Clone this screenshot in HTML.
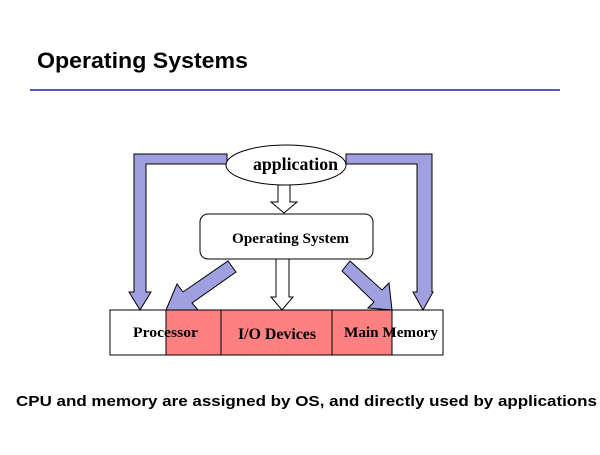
<!DOCTYPE html>
<html><head><meta charset="utf-8"><style>html,body{margin:0;padding:0;background:#fff}</style></head>
<body>
<svg width="600" height="450" viewBox="0 0 600 450" xmlns="http://www.w3.org/2000/svg">
<rect width="600" height="450" fill="#fff"/>
<text x="37" y="68" font-family="Liberation Sans, sans-serif" font-weight="bold" font-size="22" textLength="211" lengthAdjust="spacingAndGlyphs">Operating  Systems</text>
<line x1="30" y1="90" x2="560" y2="90" stroke="#5555cc" stroke-width="2"/>
<rect x="110" y="310" width="56" height="45" fill="#fff" stroke="#000"/>
<rect x="166" y="310" width="55" height="45" fill="#ff8080" stroke="#000"/>
<rect x="221" y="310" width="111" height="45" fill="#ff8080" stroke="#000"/>
<rect x="332" y="310" width="60" height="45" fill="#ff8080" stroke="#000"/>
<rect x="392" y="310" width="51" height="45" fill="#fff" stroke="#000"/>
<g font-family="Liberation Serif, serif" font-weight="bold">
<text x="133" y="337" font-size="15" textLength="65" lengthAdjust="spacingAndGlyphs">Processor</text>
<text x="238" y="339" font-size="15.5" textLength="78" lengthAdjust="spacingAndGlyphs">I/O Devices</text>
<text x="344" y="337" font-size="15" textLength="94" lengthAdjust="spacingAndGlyphs">Main Memory</text>
</g>
<polygon points="227,154 134,154 134,292 129,292 140,310 151,292 146,292 146,164 227,164" fill="#a0a0e0" stroke="#000"/>
<polygon points="346,154 432,154 432,292 433,292 423,310 413,292 417,292 417,164 346,164" fill="#a0a0e0" stroke="#000"/>
<polygon points="228,261 236,272 192,303 198,310 166,310 177,284 183,292" fill="#a0a0e0" stroke="#000"/>
<polygon points="350,261 342,271 374,302 368,308 392,310 389,283 382,290" fill="#a0a0e0" stroke="#000"/>
<polygon points="278,185 290,185 290,202 297,202 284,213 271,202 278,202" fill="#fff" stroke="#000"/>
<polygon points="276,259 289,259 289,297 293,297 282,310 271,297 276,297" fill="#fff" stroke="#000"/>
<ellipse cx="286" cy="165" rx="60" ry="20" fill="#fff" stroke="#000"/>
<text x="253" y="170" font-family="Liberation Serif, serif" font-weight="bold" font-size="17.5" textLength="85" lengthAdjust="spacingAndGlyphs">application</text>
<rect x="200" y="214" width="173" height="45" rx="8" fill="#fff" stroke="#000"/>
<text x="232" y="243" font-family="Liberation Serif, serif" font-weight="bold" font-size="15" textLength="117" lengthAdjust="spacingAndGlyphs">Operating System</text>
<text x="16" y="406" font-family="Liberation Sans, sans-serif" font-weight="bold" font-size="15" textLength="581" lengthAdjust="spacingAndGlyphs">CPU and memory are assigned by OS, and directly used by applications</text>
</svg>
</body></html>
